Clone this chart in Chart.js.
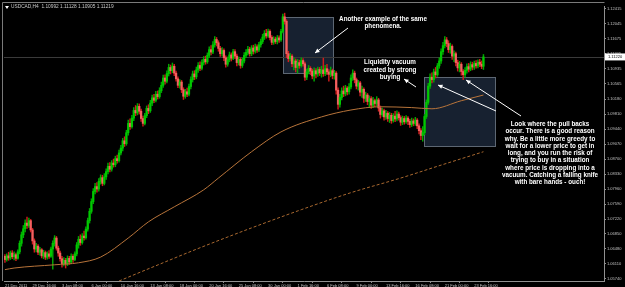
<!DOCTYPE html>
<html>
<head>
<meta charset="utf-8">
<script src="https://cdn.jsdelivr.net/npm/chart.js@4"></script>
<style>
html,body{margin:0;padding:0;background:#000;}
#wrap{width:625px;height:287px;}
</style>
</head>
<body>
<div id="wrap"><canvas id="c" width="625" height="287"></canvas></div>
<script>
// USDCAD H4 candles
const opens = [
1.0630,1.0622,1.0631,1.0626,1.0638,1.0629,1.0634,1.0625,1.0641,1.0662,
1.0683,1.0698,1.0712,1.0706,1.0718,1.0695,1.0668,1.0648,1.0655,1.0640,
1.0646,1.0631,1.0639,1.0628,1.0636,1.0630,1.0648,1.0662,1.0675,1.0650,
1.0638,1.0624,1.0612,1.0620,1.0611,1.0625,1.0616,1.0630,1.0622,1.0636,
1.0658,1.0672,1.0664,1.0680,1.0676,1.0697,1.0718,1.0741,1.0765,1.0790,
1.0802,1.0796,1.0815,1.0824,1.0810,1.0826,1.0839,1.0852,1.0845,1.0860,
1.0856,1.0871,1.0866,1.0885,1.0897,1.0915,1.0908,1.0935,1.0958,1.0950,
1.0971,1.0990,1.0984,1.1000,1.0988,1.0970,1.0958,1.0977,1.0995,1.0989,
1.1008,1.1021,1.1015,1.1030,1.1024,1.1039,1.1052,1.1070,1.1062,1.1081,
1.1096,1.1088,1.1099,1.1082,1.1068,1.1052,1.1060,1.1041,1.1025,1.1036,
1.1030,1.1049,1.1066,1.1080,1.1073,1.1090,1.1101,1.1094,1.1108,1.1116,
1.1110,1.1126,1.1140,1.1134,1.1152,1.1165,1.1157,1.1143,1.1130,1.1138,
1.1120,1.1104,1.1115,1.1127,1.1119,1.1135,1.1124,1.1108,1.1116,1.1101,
1.1112,1.1126,1.1133,1.1141,1.1130,1.1144,1.1136,1.1147,1.1139,1.1152,
1.1160,1.1171,1.1180,1.1174,1.1185,1.1170,1.1158,1.1166,1.1160,1.1169,
1.1164,1.1185,1.1221,1.1210,1.1130,1.1118,1.1124,1.1105,1.1112,1.1096,
1.1108,1.1101,1.1113,1.1105,1.1072,1.1085,1.1094,1.1087,1.1075,1.1088,
1.1080,1.1091,1.1083,1.1090,1.1081,1.1093,1.1085,1.1079,1.1088,1.1076,
1.1082,1.1040,1.1005,1.1022,1.1038,1.1031,1.1045,1.1036,1.1048,1.1070,
1.1082,1.1066,1.1050,1.1058,1.1035,1.1042,1.1020,1.1028,1.1012,1.1019,
1.1003,1.1014,1.1007,1.1016,1.0996,1.0980,1.0989,1.0974,1.0983,1.0970,
1.0978,1.0965,1.0976,1.0969,1.0981,1.0972,1.0961,1.0970,1.0962,1.0971,
1.0963,1.0955,1.0964,1.0958,1.0966,1.0952,1.0940,1.0928,1.0935,1.0975,
1.1010,1.1050,1.1072,1.1066,1.1085,1.1078,1.1100,1.1112,1.1135,1.1150,
1.1164,1.1155,1.1140,1.1148,1.1124,1.1130,1.1108,1.1095,1.1104,1.1086,
1.1078,1.1089,1.1098,1.1092,1.1103,1.1097,1.1106,1.1100,1.1109,1.1104,
1.1099
];
const highs = [
1.0634,1.0636,1.0640,1.0643,1.0644,1.0641,1.0638,1.0646,1.0668,1.0690,
1.0706,1.0720,1.0727,1.0724,1.0721,1.0699,1.0673,1.0662,1.0659,1.0652,
1.0649,1.0645,1.0643,1.0641,1.0644,1.0653,1.0668,1.0681,1.0679,1.0655,
1.0643,1.0630,1.0627,1.0625,1.0631,1.0630,1.0636,1.0634,1.0641,1.0664,
1.0679,1.0683,1.0686,1.0692,1.0703,1.0724,1.0748,1.0772,1.0797,1.0810,
1.0812,1.0822,1.0831,1.0830,1.0834,1.0846,1.0860,1.0861,1.0866,1.0870,
1.0877,1.0880,1.0892,1.0904,1.0921,1.0925,1.0941,1.0966,1.0969,1.0978,
1.0997,1.1002,1.1007,1.1006,1.0993,1.0976,1.0983,1.1001,1.1004,1.1015,
1.1028,1.1030,1.1037,1.1038,1.1046,1.1060,1.1077,1.1078,1.1088,1.1104,
1.1102,1.1107,1.1104,1.1087,1.1073,1.1066,1.1064,1.1046,1.1042,1.1045,
1.1055,1.1073,1.1087,1.1088,1.1097,1.1108,1.1110,1.1115,1.1123,1.1124,
1.1132,1.1147,1.1150,1.1160,1.1172,1.1170,1.1162,1.1148,1.1145,1.1142,
1.1125,1.1122,1.1134,1.1132,1.1141,1.1140,1.1129,1.1122,1.1120,1.1119,
1.1133,1.1140,1.1148,1.1146,1.1150,1.1151,1.1154,1.1152,1.1158,1.1166,
1.1178,1.1187,1.1190,1.1191,1.1189,1.1175,1.1172,1.1171,1.1175,1.1174,
1.1190,1.1228,1.1230,1.1214,1.1136,1.1131,1.1128,1.1120,1.1117,1.1116,
1.1114,1.1120,1.1118,1.1109,1.1092,1.1101,1.1098,1.1092,1.1095,1.1093,
1.1097,1.1096,1.1099,1.1119,1.1101,1.1104,1.1091,1.1097,1.1092,1.1089,
1.1086,1.1046,1.1030,1.1046,1.1050,1.1052,1.1049,1.1056,1.1078,1.1090,
1.1087,1.1070,1.1064,1.1062,1.1050,1.1046,1.1035,1.1032,1.1026,1.1024,
1.1022,1.1018,1.1024,1.1020,1.1001,1.0996,1.0993,1.0990,1.0987,1.0985,
1.0983,1.0982,1.0988,1.0989,1.0986,1.0977,1.0976,1.0975,1.0977,1.0975,
1.0968,1.0971,1.0969,1.0973,1.0970,1.0957,1.0945,1.0950,1.0980,1.1016,
1.1057,1.1080,1.1083,1.1092,1.1096,1.1106,1.1120,1.1142,1.1158,1.1172,
1.1170,1.1162,1.1156,1.1152,1.1137,1.1134,1.1114,1.1111,1.1108,1.1091,
1.1096,1.1105,1.1106,1.1110,1.1109,1.1112,1.1113,1.1115,1.1116,1.1112,
1.1128
];
const lows = [
1.0615,1.0618,1.0620,1.0622,1.0624,1.0621,1.0619,1.0623,1.0636,1.0655,
1.0676,1.0690,1.0699,1.0701,1.0690,1.0660,1.0640,1.0641,1.0634,1.0633,
1.0626,1.0624,1.0622,1.0623,1.0625,1.0627,1.0598,1.0655,1.0645,1.0630,
1.0618,1.0603,1.0606,1.0601,1.0607,1.0610,1.0612,1.0615,1.0619,1.0631,
1.0650,1.0657,1.0660,1.0670,1.0672,1.0692,1.0712,1.0736,1.0760,1.0784,
1.0788,1.0791,1.0808,1.0804,1.0806,1.0820,1.0833,1.0838,1.0840,1.0850,
1.0851,1.0860,1.0862,1.0880,1.0890,1.0901,1.0904,1.0929,1.0943,1.0946,
1.0965,1.0977,1.0979,1.0981,1.0963,1.0951,1.0954,1.0972,1.0982,1.0985,
1.1002,1.1009,1.1011,1.1018,1.1020,1.1034,1.1047,1.1055,1.1058,1.1075,
1.1080,1.1083,1.1076,1.1062,1.1046,1.1045,1.1034,1.1017,1.1020,1.1024,
1.1026,1.1043,1.1060,1.1066,1.1068,1.1084,1.1088,1.1090,1.1102,1.1104,
1.1106,1.1120,1.1127,1.1130,1.1146,1.1149,1.1136,1.1123,1.1124,1.1113,
1.1097,1.1099,1.1110,1.1112,1.1115,1.1118,1.1100,1.1102,1.1094,1.1096,
1.1107,1.1120,1.1127,1.1124,1.1125,1.1129,1.1131,1.1133,1.1135,1.1146,
1.1155,1.1165,1.1168,1.1170,1.1164,1.1152,1.1153,1.1155,1.1154,1.1158,
1.1160,1.1181,1.1203,1.1120,1.1110,1.1112,1.1098,1.1090,1.1085,1.1082,
1.1094,1.1097,1.1099,1.1064,1.1066,1.1080,1.1078,1.1068,1.1062,1.1070,
1.1074,1.1076,1.1072,1.1074,1.1076,1.1078,1.1062,1.1073,1.1068,1.1067,
1.1030,1.0993,1.0998,1.1016,1.1024,1.1026,1.1028,1.1030,1.1043,1.1064,
1.1058,1.1043,1.1040,1.1026,1.1022,1.1010,1.1012,1.1004,1.0998,1.0995,
1.0997,1.0999,1.1001,1.0988,1.0971,1.0975,1.0966,1.0968,1.0963,1.0960,
1.0958,1.0961,1.0962,1.0964,1.0966,1.0953,1.0955,1.0956,1.0958,1.0955,
1.0948,1.0950,1.0952,1.0953,1.0945,1.0932,1.0918,1.0914,1.0930,1.0970,
1.1005,1.1044,1.1058,1.1060,1.1070,1.1074,1.1094,1.1106,1.1128,1.1144,
1.1147,1.1133,1.1131,1.1116,1.1110,1.1100,1.1087,1.1085,1.1077,1.1066,
1.1072,1.1082,1.1085,1.1088,1.1090,1.1091,1.1094,1.1095,1.1098,1.1093,
1.1091
];
const closes = [
1.0622,1.0631,1.0626,1.0638,1.0629,1.0634,1.0625,1.0641,1.0662,1.0683,
1.0698,1.0712,1.0706,1.0718,1.0695,1.0668,1.0648,1.0655,1.0640,1.0646,
1.0631,1.0639,1.0628,1.0636,1.0630,1.0648,1.0662,1.0675,1.0650,1.0638,
1.0624,1.0612,1.0620,1.0611,1.0625,1.0616,1.0630,1.0622,1.0636,1.0658,
1.0672,1.0664,1.0680,1.0676,1.0697,1.0718,1.0741,1.0765,1.0790,1.0802,
1.0796,1.0815,1.0824,1.0810,1.0826,1.0839,1.0852,1.0845,1.0860,1.0856,
1.0871,1.0866,1.0885,1.0897,1.0915,1.0908,1.0935,1.0958,1.0950,1.0971,
1.0990,1.0984,1.1000,1.0988,1.0970,1.0958,1.0977,1.0995,1.0989,1.1008,
1.1021,1.1015,1.1030,1.1024,1.1039,1.1052,1.1070,1.1062,1.1081,1.1096,
1.1088,1.1099,1.1082,1.1068,1.1052,1.1060,1.1041,1.1025,1.1036,1.1030,
1.1049,1.1066,1.1080,1.1073,1.1090,1.1101,1.1094,1.1108,1.1116,1.1110,
1.1126,1.1140,1.1134,1.1152,1.1165,1.1157,1.1143,1.1130,1.1138,1.1120,
1.1104,1.1115,1.1127,1.1119,1.1135,1.1124,1.1108,1.1116,1.1101,1.1112,
1.1126,1.1133,1.1141,1.1130,1.1144,1.1136,1.1147,1.1139,1.1152,1.1160,
1.1171,1.1180,1.1174,1.1185,1.1170,1.1158,1.1166,1.1160,1.1169,1.1164,
1.1185,1.1221,1.1210,1.1130,1.1118,1.1124,1.1105,1.1112,1.1096,1.1108,
1.1101,1.1113,1.1105,1.1072,1.1085,1.1094,1.1087,1.1075,1.1088,1.1080,
1.1091,1.1083,1.1090,1.1081,1.1093,1.1085,1.1079,1.1088,1.1076,1.1082,
1.1040,1.1005,1.1022,1.1038,1.1031,1.1045,1.1036,1.1048,1.1070,1.1082,
1.1066,1.1050,1.1058,1.1035,1.1042,1.1020,1.1028,1.1012,1.1019,1.1003,
1.1014,1.1007,1.1016,1.0996,1.0980,1.0989,1.0974,1.0983,1.0970,1.0978,
1.0965,1.0976,1.0969,1.0981,1.0972,1.0961,1.0970,1.0962,1.0971,1.0963,
1.0955,1.0964,1.0958,1.0966,1.0952,1.0940,1.0928,1.0935,1.0975,1.1010,
1.1050,1.1072,1.1066,1.1085,1.1078,1.1100,1.1112,1.1135,1.1150,1.1164,
1.1155,1.1140,1.1148,1.1124,1.1130,1.1108,1.1095,1.1104,1.1086,1.1078,
1.1089,1.1098,1.1092,1.1103,1.1097,1.1106,1.1100,1.1109,1.1104,1.1099,
1.1122
];

// moving averages (bar index / value)
const fastIdx = [0,5,27,40,52,67,78,92,108,116,134,150,172,188,204,221,232,248,260];
const fastMa  = [1.0597,1.0601,1.0609,1.0614,1.0628,1.0675,1.0715,1.0752,1.0794,1.0823,1.0888,1.0937,1.0974,1.0991,1.0999,1.0997,1.0994,1.1014,1.1028];
const slowIdx = [62,79,106,134,161,188,215,237,260];
const slowMa  = [1.0569,1.0601,1.0651,1.0700,1.0745,1.0787,1.0823,1.0855,1.0888];

// axis labels
const dateIdx  = [0,15,31,47,63,79,95,111,127,143,159,175,191,207,223,239,255];
const dateText = ['21 Dec 2011','29 Dec 16:00','3 Jan 08:00','6 Jan 00:00','10 Jan 16:00','13 Jan 08:00',
  '18 Jan 00:00','20 Jan 16:00','25 Jan 08:00','30 Jan 00:00','1 Feb 16:00','6 Feb 08:00',
  '9 Feb 00:00','13 Feb 16:00','16 Feb 08:00','21 Feb 00:00','23 Feb 16:00'];
const yTicks = [1.05740,1.06110,1.06480,1.06850,1.07220,1.07590,1.07960,1.08330,1.08700,1.09070,
  1.09440,1.09810,1.10180,1.10565,1.10935,1.11305,1.11675,1.12045,1.12415];

const header = 'USDCAD,H4  1.10992 1.11128 1.10905 1.11219';
const note1 = ['Another example of the same', 'phenomena.'];
const note2 = ['Liquidity vacuum', 'created by strong', 'buying'];
const note3 = ['Look where the pull backs', 'occur. There is a good reason', 'why. Be a little more greedy to',
  'wait for a lower price to get in', 'long, and you run the risk of', 'trying to buy in a situation',
  'where price is dropping into a', 'vacuum. Catching a falling knife', 'with bare hands - ouch!'];

const isUp = i => closes[i] >= opens[i];

function arrow(c, x1, y1, x2, y2) {
    const a = Math.atan2(y2 - y1, x2 - x1);
    c.beginPath();
    c.moveTo(x1, y1);
    c.lineTo(x2, y2);
    c.stroke();
    c.beginPath();
    c.moveTo(x2, y2);
    c.lineTo(x2 - 5 * Math.cos(a - 0.45), y2 - 5 * Math.sin(a - 0.45));
    c.lineTo(x2 - 5 * Math.cos(a + 0.45), y2 - 5 * Math.sin(a + 0.45));
    c.closePath();
    c.fill();
}

// rectangles, bid line and text drawn by the chart
const overlay = {
    id: 'overlay',
    beforeDraw(chart) {
        const c = chart.ctx;
        c.save();
        c.fillStyle = '#000';
        c.fillRect(0, 0, chart.width, chart.height);
        c.restore();
    },
    beforeDatasetsDraw(chart) {
        const c = chart.ctx, a = chart.chartArea, ys = chart.scales.y;
        c.save();
        // shaded boxes
        c.fillStyle = '#172130';
        c.strokeStyle = '#5d6773';
        c.lineWidth = 1;
        c.fillRect(283, 17, 50, 56);
        c.strokeRect(283.5, 17.5, 50, 56);
        c.fillRect(424, 77, 71, 69);
        c.strokeRect(424.5, 77.5, 71, 69);
        // bid line
        const yb = Math.round(ys.getPixelForValue(closes[closes.length - 1])) + 0.5;
        c.strokeStyle = '#3a3a3a';
        c.beginPath();
        c.moveTo(a.left, yb);
        c.lineTo(a.right, yb);
        c.stroke();
        c.restore();
    },
    afterDraw(chart) {
        const c = chart.ctx, a = chart.chartArea, ys = chart.scales.y;
        c.save();
        // window frame
        c.strokeStyle = '#7a7a7a';
        c.lineWidth = 1;
        c.beginPath();
        c.moveTo(2.5, a.bottom);
        c.lineTo(2.5, 2.5);
        c.lineTo(a.right + 0.5, 2.5);
        c.stroke();

        // header
        c.fillStyle = '#ffffff';
        c.beginPath();
        c.moveTo(5, 6); c.lineTo(9, 6); c.lineTo(7, 9); c.closePath(); c.fill();
        c.fillStyle = '#c8c8c8';
        c.font = '4.8px "Liberation Sans"';
        c.textBaseline = 'middle';
        c.textAlign = 'left';
        c.fillText(header, 11, 7);

        // current price label
        const yb = ys.getPixelForValue(closes[closes.length - 1]);
        c.fillStyle = '#ffffff';
        c.fillRect(a.right + 1, yb - 3.5, 20, 7);
        c.fillStyle = '#000000';
        c.font = '4px "Liberation Sans"';
        c.fillText(closes[closes.length - 1].toFixed(5), a.right + 4, yb);

        // notes
        c.fillStyle = '#ffffff';
        c.strokeStyle = '#ffffff';
        c.font = 'bold 6.3px "Liberation Sans"';
        c.textAlign = 'center';
        note1.forEach((t, k) => c.fillText(t, 383, 19 + k * 7.3));
        note2.forEach((t, k) => c.fillText(t, 390, 62.5 + k * 7.5));
        note3.forEach((t, k) => c.fillText(t, 550, 124.5 + k * 7.25));
        c.lineWidth = 1;
        arrow(c, 348, 28, 315, 53);
        arrow(c, 416, 87, 404, 79);
        arrow(c, 496, 111, 438, 85);
        arrow(c, 521, 116, 466, 80);
        c.restore();
    }
};

const bodyData = closes.map((v, i) => ({x: i, y: [opens[i], v]}));
const wickData = closes.map((v, i) => ({x: i, y: [lows[i], highs[i]]}));

const ctx = document.getElementById('c').getContext('2d');
const chart = new Chart(ctx, {
    type: 'bar',
    data: {
        datasets: [
            {
                type: 'line',
                data: fastIdx.map((v, i) => ({x: v, y: fastMa[i]})),
                borderColor: '#b8743a',
                borderWidth: 1,
                pointRadius: 0,
                cubicInterpolationMode: 'monotone',
                order: 0
            },
            {
                type: 'line',
                data: slowIdx.map((v, i) => ({x: v, y: slowMa[i]})),
                borderColor: '#a8682f',
                borderWidth: 1,
                borderDash: [3, 2],
                pointRadius: 0,
                cubicInterpolationMode: 'monotone',
                order: 0
            },
            {
                data: bodyData,
                backgroundColor: c => isUp(c.dataIndex) ? '#00c800' : '#f46060',
                barThickness: 1.6,
                minBarLength: 1,
                grouped: false,
                order: 1
            },
            {
                data: wickData,
                backgroundColor: c => isUp(c.dataIndex) ? '#00a800' : '#d01c1c',
                barThickness: 0.8,
                grouped: false,
                order: 2
            }
        ]
    },
    options: {
        responsive: false,
        animation: false,
        events: [],
        layout: {padding: {left: 4, top: 6, right: 0, bottom: 0}},
        plugins: {legend: {display: false}, tooltip: {enabled: false}},
        scales: {
            x: {
                type: 'linear',
                min: -0.5,
                max: 325.5,
                offset: false,
                afterBuildTicks: s => { s.ticks = dateIdx.map(v => ({value: v})); },
                afterFit: s => { s.height = 6; },
                ticks: {
                    callback: (v, i) => dateText[i],
                    color: '#c0c0c0',
                    font: {family: 'Liberation Sans', size: 4},
                    padding: 0,
                    maxRotation: 0,
                    autoSkip: false,
                    align: 'start'
                },
                grid: {drawOnChartArea: false, tickLength: 2, color: '#909090'},
                border: {color: '#909090'}
            },
            y: {
                type: 'linear',
                position: 'right',
                min: 1.0569,
                max: 1.12477,
                afterBuildTicks: s => { s.ticks = yTicks.map(v => ({value: v})); },
                afterFit: s => { s.width = 21; },
                ticks: {
                    callback: (v, i) => yTicks[i].toFixed(5),
                    color: '#c0c0c0',
                    font: {family: 'Liberation Sans', size: 4},
                    padding: 1
                },
                grid: {drawOnChartArea: false, tickLength: 2, color: '#909090'},
                border: {color: '#909090'}
            }
        }
    },
    plugins: [overlay]
});
</script>
</body>
</html>
